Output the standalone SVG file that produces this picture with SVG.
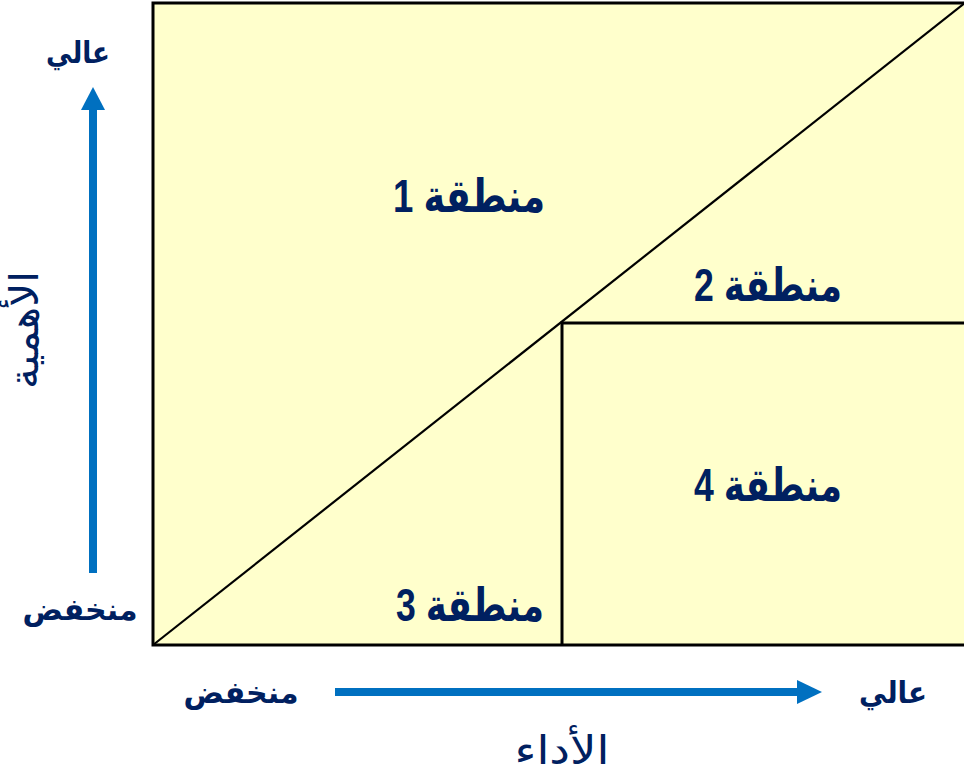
<svg xmlns="http://www.w3.org/2000/svg" width="964" height="772" viewBox="0 0 964 772">
<style>
.zone{font-family:"Liberation Sans","DejaVu Sans",sans-serif;font-weight:bold;font-size:46px;fill:#002060;text-anchor:middle}
.ax{font-family:"Liberation Sans","DejaVu Sans",sans-serif;font-weight:bold;font-size:30px;fill:#002060;text-anchor:middle}
.axn{font-family:"Liberation Sans","DejaVu Sans",sans-serif;font-size:40px;fill:#002060;text-anchor:middle}
.ln{stroke:#000;fill:none}
</style>
<rect width="964" height="772" fill="#fff"/>
<g id="chart">
<rect x="153" y="3" width="820" height="642" fill="#FFFFCC" stroke="#000" stroke-width="3"/>
<line class="ln" x1="153" y1="645" x2="966" y2="2" stroke-width="2.2"/>
<polyline class="ln" points="562,645 562,323 966,323" stroke-width="3"/>
</g>
<g id="zone1"><text class="zone" x="469" y="212" textLength="152" lengthAdjust="spacingAndGlyphs">منطقة 1</text></g>
<g id="zone2"><text class="zone" x="768" y="301" textLength="148" lengthAdjust="spacingAndGlyphs">منطقة 2</text></g>
<g id="zone3"><text class="zone" x="470" y="621" textLength="148" lengthAdjust="spacingAndGlyphs">منطقة 3</text></g>
<g id="zone4"><text class="zone" x="768" y="501" textLength="148" lengthAdjust="spacingAndGlyphs">منطقة 4</text></g>
<g id="connectors">
<line x1="93" y1="573" x2="93" y2="108" stroke="#0070C0" stroke-width="8"/>
<polygon points="93,87 81,110 105,110" fill="#0070C0"/>
<line x1="335" y1="692" x2="798" y2="692" stroke="#0070C0" stroke-width="8"/>
<polygon points="822,692 797,680 797,704" fill="#0070C0"/>
</g>
<g id="labels">
<text class="ax" x="78" y="63" textLength="64" lengthAdjust="spacingAndGlyphs">عالي</text>
<text class="ax" x="80" y="620">منخفض</text>
<text class="ax" x="241" y="703">منخفض</text>
<text class="ax" x="893" y="703" textLength="68" lengthAdjust="spacingAndGlyphs">عالي</text>
<text class="axn" x="562" y="764" textLength="95" lengthAdjust="spacingAndGlyphs">الأداء</text>
<text class="axn" transform="translate(38,330) rotate(-90)" x="0" y="0" textLength="118" lengthAdjust="spacingAndGlyphs">الأهمية</text>
</g>
</svg>
